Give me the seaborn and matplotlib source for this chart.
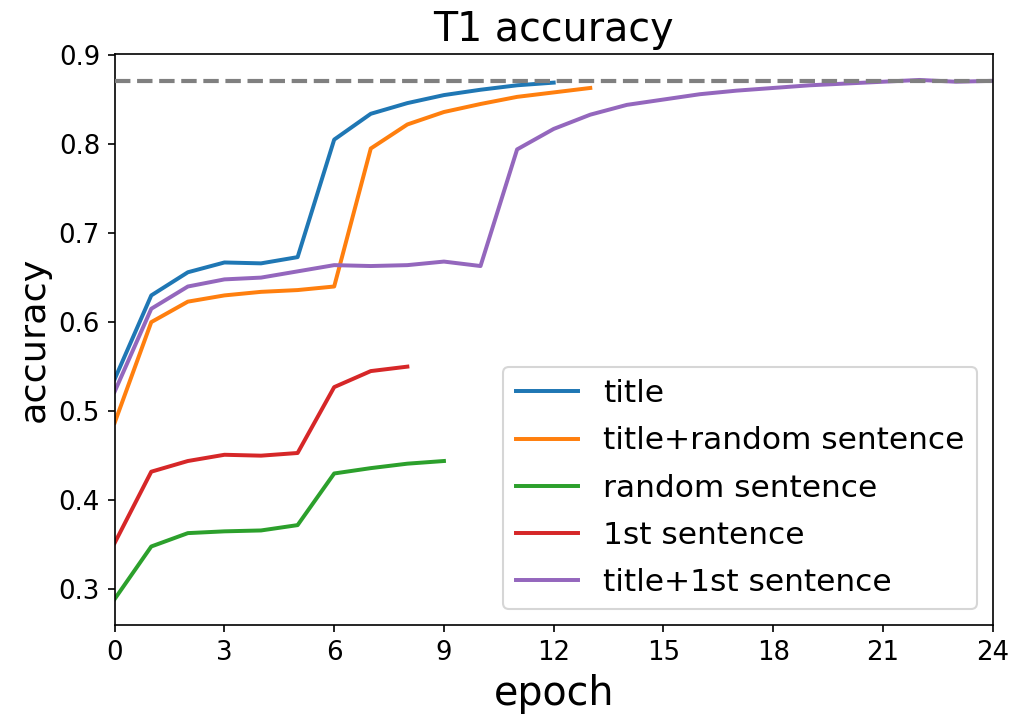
import numpy as np
import pandas as pd
import matplotlib
matplotlib.use("Agg")
import matplotlib.pyplot as plt
import seaborn as sns

# Validation accuracy per epoch for each input configuration
acc_title = [0.536, 0.630, 0.656, 0.667, 0.666, 0.673, 0.805, 0.834, 0.846,
             0.855, 0.861, 0.866, 0.869]
acc_title_random = [0.487, 0.600, 0.623, 0.630, 0.634, 0.636, 0.640, 0.795,
                    0.822, 0.836, 0.845, 0.853, 0.858, 0.863]
acc_random = [0.289, 0.348, 0.363, 0.365, 0.366, 0.372, 0.430, 0.436, 0.441,
              0.444]
acc_first = [0.352, 0.432, 0.444, 0.451, 0.450, 0.453, 0.527, 0.545, 0.550]
acc_title_first = [0.522, 0.615, 0.640, 0.648, 0.650, 0.657, 0.664, 0.663,
                   0.664, 0.668, 0.663, 0.794, 0.817, 0.833, 0.844, 0.850,
                   0.856, 0.860, 0.863, 0.866, 0.868, 0.870, 0.872, 0.870,
                   0.871]
best_acc = 0.871

series_names = ["title", "title+random sentence", "random sentence",
                "1st sentence", "title+1st sentence"]
series_values = [acc_title, acc_title_random, acc_random, acc_first,
                 acc_title_first]

frames = []
for name, vals in zip(series_names, series_values):
    frames.append(pd.DataFrame({"epoch": np.arange(len(vals)),
                                "accuracy": vals,
                                "setting": name}))
df = pd.concat(frames, ignore_index=True)

fig = plt.figure(figsize=(1015 / 150, 720 / 150), dpi=150)
ax = fig.add_axes([0.113, 0.132, 0.865, 0.793])

sns.lineplot(data=df, x="epoch", y="accuracy", hue="setting",
             hue_order=series_names, palette=sns.color_palette("tab10", 5),
             linewidth=1.9, ax=ax)
ax.axhline(best_acc, color="gray", linestyle="--", linewidth=2.0, zorder=3)

ax.set_xlim(0, 24)
ax.set_xticks(np.arange(0, 25, 3))
ax.set_title("T1 accuracy", fontsize=19)
ax.set_xlabel("epoch", fontsize=19)
ax.set_ylabel("accuracy", fontsize=17.5)
ax.tick_params(labelsize=12.5)
ax.legend(loc="lower right", fontsize=15, title=None, labelspacing=0.58)

fig.savefig("out.png", dpi=150)
